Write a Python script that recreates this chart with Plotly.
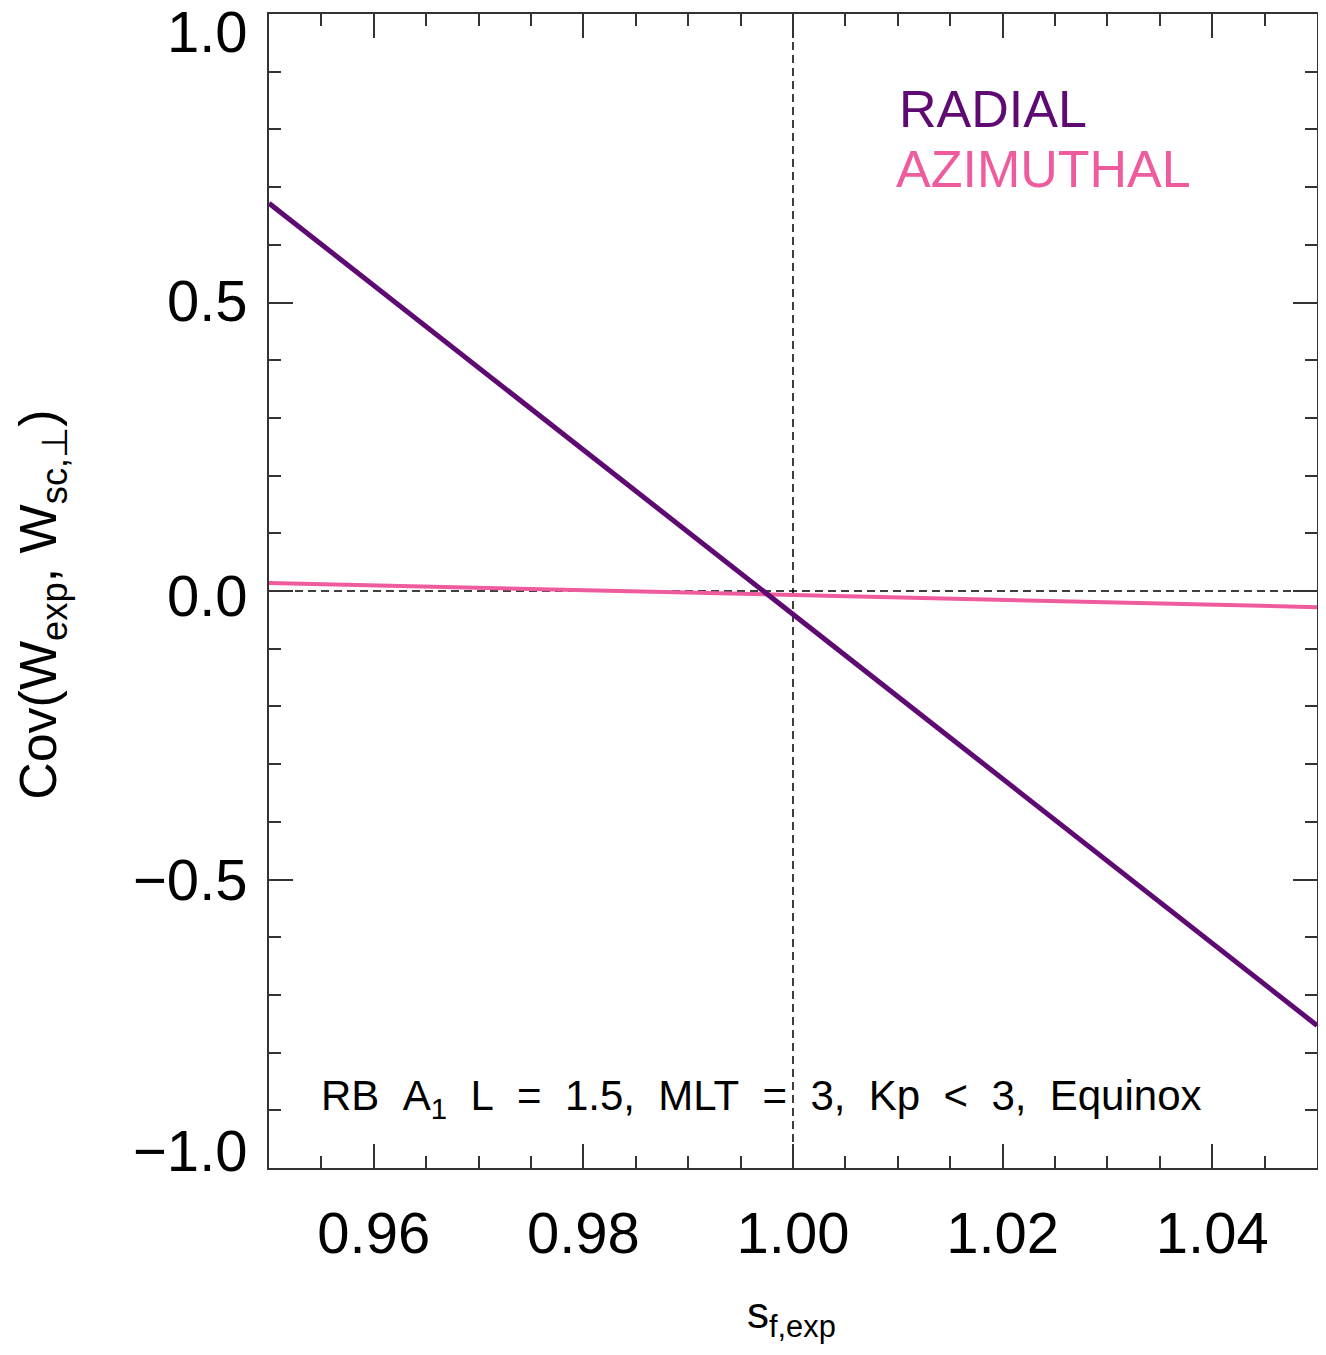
import plotly.graph_objects as go

# Data
s_exp = [0.95, 1.00, 1.05]
cov_radial = [0.672, -0.040, -0.753]
cov_azimuthal = [0.014, -0.007, -0.028]

ref_x = 1.0
ref_y = 0.0

x_tickvals = [0.96, 0.98, 1.00, 1.02, 1.04]
x_ticktext = ["0.96", "0.98", "1.00", "1.02", "1.04"]
y_tickvals = [-1.0, -0.5, 0.0, 0.5, 1.0]
y_ticktext = ["\u22121.0", "\u22120.5", "0.0", "0.5", "1.0"]

# style: vertical nudges of the y tick labels (pixels)
Y_LABEL_SHIFT = [18, 0, -4, 2, -17]

RADIAL_COLOR = "#5E0A72"
AZI_COLOR = "#EF5C9E"
AXCOL = "#333333"
FONT = "Liberation Sans, Arial, sans-serif"

fig = go.Figure()
fig.add_trace(go.Scatter(x=s_exp, y=cov_azimuthal, mode="lines",
                         line=dict(color=AZI_COLOR, width=4), name="AZIMUTHAL",
                         showlegend=False))
fig.add_trace(go.Scatter(x=s_exp, y=cov_radial, mode="lines",
                         line=dict(color=RADIAL_COLOR, width=5), name="RADIAL",
                         showlegend=False))

fig.add_shape(type="line", xref="x", yref="paper", x0=ref_x, x1=ref_x, y0=0, y1=1,
              line=dict(color="black", width=1.5, dash="8px,5px"), layer="below")
fig.add_shape(type="line", xref="paper", yref="y", x0=0, x1=1, y0=ref_y, y1=ref_y,
              line=dict(color="black", width=1.5, dash="8px,5px"), layer="below")

axis_common = dict(showgrid=False, zeroline=False, showline=True, linecolor=AXCOL,
                   linewidth=2, mirror="allticks", ticks="inside", ticklen=24,
                   tickwidth=2, tickcolor=AXCOL, automargin=False,
                   ticklabeloverflow="allow",
                   tickfont=dict(family=FONT, size=58, color="black"))

# The page body has an 8px margin; the figure is sized to fit inside it.
fig.update_layout(
    width=1310, height=1339,
    margin=dict(l=261, r=1, t=6, b=179),
    paper_bgcolor="white", plot_bgcolor="white",
    xaxis=dict(range=[0.95, 1.05], tickvals=x_tickvals, ticktext=x_ticktext,
               ticklabelstandoff=13,
               minor=dict(dtick=0.005, tick0=0.95, ticks="inside", ticklen=12,
                          tickwidth=2, tickcolor=AXCOL, showgrid=False),
               **axis_common),
    yaxis=dict(range=[-1.0, 1.0], tickvals=y_tickvals, ticktext=y_ticktext,
               showticklabels=False,
               minor=dict(dtick=0.1, tick0=0.0, ticks="inside", ticklen=12,
                          tickwidth=2, tickcolor=AXCOL, showgrid=False),
               **axis_common),
    showlegend=False,
)

# y tick labels placed on the y scale
for v, t, dy in zip(y_tickvals, y_ticktext, Y_LABEL_SHIFT):
    fig.add_annotation(xref="paper", yref="y", x=0, y=v, text=t, showarrow=False,
                       xanchor="right", yanchor="middle", xshift=-19, yshift=dy,
                       font=dict(family=FONT, size=58, color="black"))

# Axis titles
fig.add_annotation(xref="paper", yref="paper", x=-0.2166, y=0.488,
                   text="Cov(W<sub>exp</sub>, W<sub>sc,\u22a5</sub>)", textangle=-90,
                   showarrow=False, xanchor="center", yanchor="middle",
                   font=dict(family=FONT, size=52, color="black"))
fig.add_annotation(xref="paper", yref="paper", x=0.499, y=-0.128,
                   text="s<sub>f,exp</sub>", showarrow=False,
                   xanchor="center", yanchor="middle",
                   font=dict(family=FONT, size=44, color="black"))

# Legend labels
fig.add_annotation(xref="paper", yref="paper", x=0.599, y=0.9177, text="RADIAL",
                   showarrow=False, xanchor="left", yanchor="middle",
                   font=dict(family=FONT, size=52, color=RADIAL_COLOR))
fig.add_annotation(xref="paper", yref="paper", x=0.5964, y=0.8657, text="AZIMUTHAL",
                   showarrow=False, xanchor="left", yanchor="middle",
                   font=dict(family=FONT, size=52, color=AZI_COLOR))

# Info text
sp = "\u00a0\u00a0"
info = ("RB" + sp + "A<sub>1</sub>" + sp + "L" + sp + "=" + sp + "1.5," + sp +
        "MLT" + sp + "=" + sp + "3," + sp + "Kp" + sp + "<" + sp + "3," + sp + "Equinox")
fig.add_annotation(xref="paper", yref="paper", x=0.0477, y=0.0600, text=info,
                   showarrow=False, xanchor="left", yanchor="middle",
                   font=dict(family=FONT, size=42, color="black"))

fig.write_html("out.html")
